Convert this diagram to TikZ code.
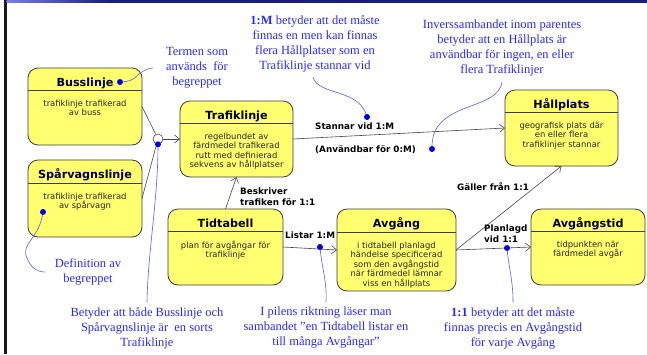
\documentclass[tikz,border=0pt]{standalone}
\usepackage{fontspec}
\setmainfont{DejaVu Sans}
\newfontfamily\notefont{Liberation Serif}
\usetikzlibrary{arrows.meta}

\definecolor{boxfill}{RGB}{255,255,112}
\definecolor{boxline}{RGB}{60,60,60}
\definecolor{notetext}{RGB}{40,40,255}
\definecolor{notecurve}{RGB}{90,90,245}
\definecolor{dotblue}{RGB}{0,0,230}
\definecolor{barnavy}{RGB}{28,28,125}
\definecolor{barlight}{RGB}{125,125,235}
\definecolor{connline}{RGB}{70,70,70}

% class box: name, left, top, width, height, header height, title, description
\newcommand\classnode[8]{%
  \node[classbox, minimum width=#4pt, minimum height=#5pt, anchor=north west] (#1) at (#2,#3) {};
  \draw[classrule] ([yshift=-#6pt]#1.north west) -- ([yshift=-#6pt]#1.north east);
  \node[classtitle] (#1-title) at ([yshift=-18pt]#1.north) {#7};
  \node[classbody] (#1-body) at ([yshift=-#6pt-9.5pt]#1.north) {#8};
}

\begin{document}
\begin{tikzpicture}[x=1pt,y=-1pt,
  classbox/.style={draw=boxline, line width=0.8pt, fill=boxfill, rounded corners=10pt, inner sep=0pt, outer sep=0pt},
  classrule/.style={draw=boxline, line width=0.8pt},
  classtitle/.style={font=\fontsize{11.2}{13}\selectfont\bfseries, inner sep=0pt, anchor=base},
  classbody/.style={font=\fontsize{8.4}{9.6}\selectfont, text=black!85, align=center, inner sep=0pt, anchor=north,
    execute at begin node={\rule{0pt}{6.5pt}}},
  conn/.style={draw=connline, line width=0.6pt, -{Straight Barb[length=5pt,width=8pt]}},
  plain/.style={draw=connline, line width=0.6pt},
  edgelabel/.style={font=\fontsize{8.8}{10.5}\selectfont\bfseries, inner sep=0pt, anchor=north west, align=left,
    execute at begin node={\rule{0pt}{7.5pt}}},
  note/.style={font=\notefont\fontsize{12.5}{15}\selectfont, text=notetext, align=center, inner sep=0pt, anchor=north,
    execute at begin node={\rule{0pt}{10pt}}},
  notecurve/.style={draw=notecurve, line width=0.6pt},
  dot/.style={circle, fill=dotblue, minimum size=6pt, inner sep=0pt},
]
\useasboundingbox (0,0) rectangle (647,354);
\fill[white] (0,0) rectangle (647,354);

% frame: left rule and title bar
\fill[black!90] (4,0) rectangle (6.5,354);
\shade[left color=barlight, right color=barnavy] (6.5,0) rectangle (110,2.5);
\fill[barnavy] (110,0) rectangle (647,2.5);

% classes
\classnode{buss}{28}{68}{114}{77}{22}{Busslinje}{trafiklinje trafikerad\\av buss}
\classnode{sparv}{28}{160}{114}{77}{23}{Spårvagnslinje}{trafiklinje trafikerad\\av spårvagn}
\classnode{trafik}{180}{101}{113}{76}{22}{Trafiklinje}{regelbundet av\\färdmedel trafikerad\\rutt med definierad\\sekvens av hållplatser}
\classnode{hall}{505}{90}{113}{76}{22}{Hållplats}{geografisk plats där\\en eller flera\\trafiklinjer stannar}
\classnode{tid}{168}{209}{115}{76}{22}{Tidtabell}{plan för avgångar för\\trafiklinje}
\classnode{avg}{337}{209}{119}{82}{23}{Avgång}{i tidtabell planlagd\\händelse specificerad\\som den avgångstid\\när färdmedel lämnar\\viss en hållplats}
\classnode{avgtid}{531}{209}{114}{76}{22}{Avgångstid}{tidpunkten när\\färdmedel avgår}

% generalization
\node[circle, draw=connline, fill=white, line width=0.6pt, minimum size=10pt, inner sep=0pt] (gen) at (158,139) {};
\draw[plain] (buss.east) -- (gen);
\draw[plain] (sparv.east) -- (gen);
\draw[conn] (gen) -- (trafik.west);

% associations
\draw[conn] (trafik.east) -- (hall.west);
\draw[conn] (tid.north) -- (trafik.south);
\draw[conn] (tid.east) -- (avg.west);
\draw[conn] (avg.east) -- (avgtid.west);
\draw[conn] (avg.east) -- (hall.south);

% association labels
\node[edgelabel] (l-stannar) at (315,122) {Stannar vid 1:M};
\node[edgelabel] (l-anv) at (315,145) {(Användbar för 0:M)};
\node[edgelabel] (l-beskr) at (240,188) {Beskriver\\trafiken för 1:1};
\node[edgelabel] (l-listar) at (285,231) {Listar 1:M};
\node[edgelabel] (l-plan) at (484,225) {Planlagd\\vid 1:1};
\node[edgelabel] (l-galler) at (457,182) {Gäller från 1:1};

% explanatory notes
\node[note] (n-term) at (197,47.5) {Termen som\\används~~för\\begreppet};
\node[note] (n-stannar) at (315,15) {\textbf{1:M} betyder att det måste\\finnas en men kan finnas\\flera Hållplatser som en\\Trafiklinje stannar vid};
\node[note] (n-anv) at (502,20) {Inverssambandet inom parentes\\betyder att en Hållplats är\\användbar för ingen, en eller\\flera Trafiklinjer};
\node[note] (n-def) at (88,258) {Definition av\\begreppet};
\node[note] (n-gen) at (147,307) {Betyder att både Busslinje och\\Spårvagnslinje är~~en sorts\\Trafiklinje};
\node[note] (n-listar) at (326,307) {I pilens riktning läser man\\sambandet ”en Tidtabell listar en\\till många Avgångar”};
\node[note] (n-plan) at (513,307) {\textbf{1:1} betyder att det måste\\finnas precis en Avgångstid\\för varje Avgång};

% note pointers
\coordinate (c-term) at (153,68);
\coordinate (c-def) at (45,272);
\coordinate (c-stannar) at (313,77);
\coordinate (c-anv) at (502,82);
\coordinate (c-gen) at (147,302);
\coordinate (c-listar) at (326,302);
\coordinate (c-plan) at (513,302);

\draw[notecurve] (120,82) .. controls (140,82) and (135,70) .. (c-term);
\draw[notecurve] (43,212) .. controls (40,238) and (20,244) .. (27,258) .. controls (31,268) and (37,272) .. (c-def);
\draw[notecurve] (c-stannar) .. controls (318,96) and (360,88) .. (367,117);
\draw[notecurve] (c-anv) .. controls (498,112) and (430,100) .. (432,149);
\draw[notecurve] (gen.south) .. controls (158,200) and (148,250) .. (c-gen);
\draw[notecurve] (320,247) .. controls (322,270) and (327,280) .. (c-listar);
\draw[notecurve] (507,248) .. controls (509,270) and (513,280) .. (c-plan);

% pointer dots
\node[dot] (d-term) at (120,82) {};
\node[dot] (d-def) at (43,212) {};
\node[dot] (d-stannar) at (367,117) {};
\node[dot] (d-anv) at (432,149) {};
\node[dot] (d-gen) at (gen.south) {};
\node[dot] (d-listar) at (320,247) {};
\node[dot] (d-plan) at (507,248) {};
\end{tikzpicture}
\end{document}
